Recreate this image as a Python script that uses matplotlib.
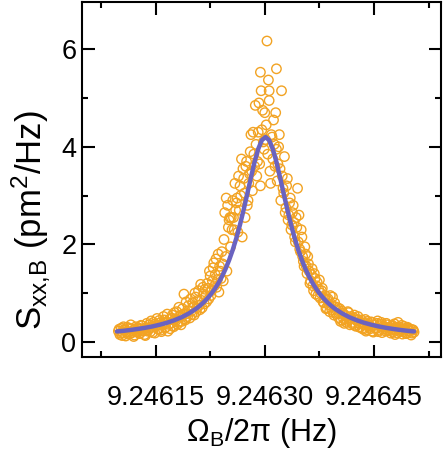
import matplotlib
matplotlib.use("Agg")
import matplotlib.pyplot as plt
import numpy as np

plt.rcParams['font.family'] = ['Liberation Sans', 'DejaVu Sans']
plt.rcParams['mathtext.fontset'] = 'custom'
plt.rcParams['mathtext.rm'] = 'Liberation Sans'
plt.rcParams['mathtext.it'] = 'Liberation Sans'

# frequency offsets above 9.246 (in units of 1e-6) and measured S_xx,B (pm^2/Hz)
freq_offset_a = [
    99, 101, 103, 105, 107, 109, 111, 113, 115, 117, 119, 121, 123, 125, 127, 129, 131, 133, 135, 137, 139,
    141, 143, 145, 147, 149, 151, 153, 155, 157, 159, 161, 163, 165, 167, 169,
    171, 173, 175, 177, 179, 181, 183, 185, 187, 189, 191, 193, 195, 197, 199,
    201, 203, 205, 207, 209, 211, 213, 215, 217, 219,
    221, 223, 225, 227, 229, 231, 233, 235, 237, 239,
    241, 243, 245, 247, 249, 251, 253, 255,
    257, 259, 261, 263, 265, 267, 269,
    271, 273, 275, 277, 279, 281, 283, 285,
    287, 289, 291, 293, 294, 295, 297, 299,
    301, 303, 305, 306, 307, 309, 311, 313, 315, 316,
    317, 319, 321, 323, 325, 327, 329, 331,
    333, 335, 337, 339, 341, 343, 345,
    347, 349, 351, 353, 355, 357, 359,
    361, 363, 365, 367, 369, 371, 373, 375, 377, 379,
    381, 383, 385, 387, 389, 391, 393, 395, 397, 399,
    401, 403, 405, 407, 409, 411, 413, 415, 417, 419, 421, 423, 425, 427, 429,
    431, 433, 435, 437, 439, 441, 443, 445, 447, 449, 451, 453, 455, 457, 459, 461, 463, 465, 467, 469,
    471, 473, 475, 477, 479, 481, 483, 485, 487, 489, 491, 493, 495, 497, 499, 501, 503, 505,
]
psd_a = [
    0.22, 0.15, 0.28, 0.19, 0.25, 0.12, 0.30, 0.21, 0.17, 0.27, 0.23, 0.14, 0.31, 0.20, 0.26, 0.18, 0.33, 0.24, 0.15, 0.29, 0.22,
    0.35, 0.21, 0.30, 0.40, 0.18, 0.33, 0.27, 0.44, 0.24, 0.37, 0.52, 0.29, 0.41, 0.22, 0.46,
    0.38, 0.55, 0.31, 0.47, 0.62, 0.40, 0.51, 0.35, 0.68, 0.98, 0.45, 0.58, 0.74, 0.49, 0.63,
    0.80, 0.55, 0.92, 0.70, 1.05, 0.66, 0.85, 1.12, 0.78, 0.95,
    1.20, 0.88, 1.35, 1.05, 1.52, 1.15, 1.70, 1.28, 1.02, 1.45,
    1.85, 1.25, 2.65, 2.95, 2.80, 2.50, 1.95, 2.30,
    2.55, 3.25, 2.85, 2.25, 2.70, 3.00, 2.15,
    3.35, 2.55, 3.70, 2.90, 3.45, 4.25, 3.10, 3.85,
    4.85, 3.40, 4.30, 3.65, 5.53, 5.15, 4.75, 3.95,
    4.15, 6.17, 5.37, 5.15, 3.50, 4.25, 3.75, 4.05, 4.70, 5.60,
    3.30, 4.00, 3.55, 5.15, 3.15, 3.80, 2.75, 3.35,
    2.60, 2.95, 2.40, 2.80, 2.15, 2.55, 3.15,
    2.60, 1.85, 2.15, 1.65, 1.95, 1.55, 1.75,
    1.45, 1.25, 1.50, 1.05, 1.30, 1.15, 0.95, 1.27, 1.00, 1.10,
    0.80, 0.95, 0.70, 0.88, 0.62, 0.78, 0.92, 0.55, 0.72, 0.65,
    0.50, 0.68, 0.45, 0.59, 0.38, 0.52, 0.44, 0.60, 0.35, 0.48, 0.40, 0.55, 0.32, 0.46, 0.38,
    0.30, 0.45, 0.26, 0.38, 0.22, 0.42, 0.33, 0.27, 0.40, 0.20, 0.35, 0.29, 0.43, 0.24, 0.36, 0.19, 0.32, 0.27, 0.38, 0.23,
    0.30, 0.18, 0.34, 0.25, 0.15, 0.29, 0.40, 0.21, 0.27, 0.16, 0.32, 0.24, 0.19, 0.28, 0.22, 0.14, 0.25, 0.20,
]

freq_offset_b = [
    100, 102, 104, 106, 108, 110, 112, 114, 116, 118, 120, 122, 124, 126, 128, 130, 132, 134, 136, 138, 140,
    142, 144, 146, 148, 150, 152, 154, 156, 158, 160, 162, 164, 166, 168, 170,
    172, 174, 176, 178, 180, 182, 184, 186, 188, 190, 192, 194, 196, 198, 200,
    202, 204, 206, 208, 210, 212, 214, 216, 218, 220,
    222, 224, 226, 228, 230, 232, 234, 236, 238, 240,
    242, 244, 246, 248, 250, 252, 254, 256,
    258, 260, 262, 264, 266, 268, 270,
    272, 274, 276, 278, 280, 282, 284, 286,
    288, 290, 292, 294, 296, 298, 300,
    302, 304, 306, 308, 310, 312, 314, 316,
    318, 320, 322, 324, 326, 328, 330, 332,
    334, 336, 338, 340, 342, 344, 346,
    348, 350, 352, 354, 356, 358, 360,
    362, 364, 366, 368, 370, 372, 374, 376, 378, 380,
    382, 384, 386, 388, 390, 392, 394, 396, 398, 400,
    402, 404, 406, 408, 410, 412, 414, 416, 418, 420, 422, 424, 426, 428, 430,
    432, 434, 436, 438, 440, 442, 444, 446, 448, 450, 452, 454, 456, 458, 460, 462, 464, 466, 468, 470,
    472, 474, 476, 478, 480, 482, 484, 486, 488, 490, 492, 494, 496, 498, 500, 502, 504,
]
psd_b = [
    0.26, 0.18, 0.13, 0.31, 0.24, 0.20, 0.16, 0.28, 0.35, 0.19, 0.11, 0.26, 0.22, 0.29, 0.17, 0.34, 0.23, 0.27, 0.13, 0.38, 0.25,
    0.28, 0.43, 0.19, 0.36, 0.31, 0.48, 0.26, 0.39, 0.21, 0.34, 0.45, 0.30, 0.57, 0.36, 0.27,
    0.49, 0.33, 0.60, 0.44, 0.36, 0.71, 0.54, 0.42, 0.57, 0.47, 0.82, 0.52, 0.64, 0.88, 0.56,
    0.72, 1.00, 0.62, 0.85, 0.75, 1.18, 0.70, 0.98, 1.08, 0.82,
    1.10, 1.45, 0.95, 1.25, 1.62, 1.38, 1.12, 1.80, 1.55, 1.30,
    1.60, 2.10, 1.75, 1.45, 2.35, 2.55, 2.55, 2.90,
    2.30, 2.70, 2.95, 3.40, 3.20, 3.75, 3.55,
    3.05, 3.60, 2.80, 3.25, 3.90, 3.50, 4.30, 3.60,
    4.05, 3.70, 4.90, 3.20, 4.35, 4.10, 4.70,
    4.45, 3.85, 4.95, 3.25, 4.20, 4.55, 3.60, 3.95,
    3.65, 4.25, 2.90, 3.40, 3.05, 2.65, 3.20, 2.50,
    2.85, 2.30, 2.65, 2.45, 2.05, 2.35, 2.05,
    1.90, 2.30, 1.75, 1.55, 1.80, 1.40, 1.60,
    1.20, 1.38, 1.15, 1.40, 0.98, 1.22, 1.08, 0.90, 1.05, 0.82,
    0.90, 0.68, 0.85, 0.76, 0.95, 0.66, 0.60, 0.80, 0.58, 0.70,
    0.58, 0.42, 0.63, 0.48, 0.55, 0.40, 0.62, 0.46, 0.52, 0.37, 0.50, 0.34, 0.44, 0.52, 0.30,
    0.40, 0.28, 0.35, 0.46, 0.25, 0.36, 0.30, 0.41, 0.22, 0.34, 0.28, 0.38, 0.21, 0.33, 0.40, 0.26, 0.30, 0.22, 0.35, 0.28,
    0.23, 0.32, 0.20, 0.37, 0.26, 0.18, 0.31, 0.24, 0.34, 0.21, 0.27, 0.17, 0.30, 0.23, 0.26, 0.18, 0.24,
]

# Lorentzian fit curve (offset above 9.246, value)
fit_offset = [97, 106, 116, 126, 136, 146, 156, 166, 176, 186, 196,
              206, 211, 216, 221, 226, 231, 236, 241, 246, 251, 256, 261, 266, 271, 276, 281, 286, 291, 296,
              301, 306, 311, 316, 321, 326, 331, 336, 341, 346, 351, 356, 361, 366, 371, 376, 381, 386, 391, 396,
              406, 416, 426, 436, 446, 456, 466, 476, 486, 496, 505]
fit_val = [0.214, 0.227, 0.245, 0.266, 0.290, 0.318, 0.353, 0.394, 0.445, 0.507, 0.585,
           0.683, 0.743, 0.810, 0.888, 0.977, 1.079, 1.197, 1.334, 1.492, 1.676, 1.887, 2.130, 2.405, 2.710,
           3.037, 3.372, 3.690, 3.956, 4.136, 4.200,
           4.136, 3.956, 3.690, 3.372, 3.037, 2.710, 2.405, 2.130, 1.887, 1.676, 1.492, 1.334, 1.197, 1.079,
           0.977, 0.888, 0.810, 0.743, 0.683,
           0.585, 0.507, 0.445, 0.394, 0.353, 0.318, 0.290, 0.266, 0.245, 0.227, 0.214]

x_ticks = [9.24615, 9.24630, 9.24645]
x_ticklabels = ["9.24615", "9.24630", "9.24645"]
y_ticks = [0, 2, 4, 6]

base = 9.246
x = base + np.array(freq_offset_a + freq_offset_b) * 1e-6
y = np.array(psd_a + psd_b)
xf = base + np.array(fit_offset) * 1e-6

fig = plt.figure(figsize=(4.44, 4.57), dpi=100)
ax = fig.add_axes([82/444, 1 - 357/457, (441-82)/444, (357-2)/457])

ax.scatter(x, y, s=46, facecolors='none', edgecolors='#F2A323', linewidths=1.0, zorder=2)
ax.plot(xf, fit_val, color='#6A63C0', lw=3.2, zorder=3, solid_capstyle='round', solid_joinstyle='round')

ax.set_xlim(9.246049, 9.246542)
ax.set_ylim(-0.31, 6.97)
ax.set_xticks(x_ticks)
ax.set_xticklabels(x_ticklabels)
ax.set_xticks([9.246075, 9.246225, 9.246375, 9.246525], minor=True)
ax.set_yticks(y_ticks)
ax.set_yticks([1, 3, 5], minor=True)

for s in ax.spines.values():
    s.set_linewidth(1.5)
ax.tick_params(which='both', direction='in', top=True, right=True, width=1.5, labelsize=19.5)
ax.tick_params(axis='x', which='both', pad=20)
ax.tick_params(axis='y', which='both', pad=4)
ax.tick_params(which='major', length=9)
ax.tick_params(which='minor', length=4.5)

ax.set_xlabel(r'$\Omega_\mathrm{B}/2\pi$ (Hz)', fontsize=22, va='center')
ax.xaxis.set_label_coords(0.5, -0.214)
ax.set_ylabel(r'S$_\mathrm{xx{,}B}$ (pm$^2$/Hz)', fontsize=25, va='center')
ax.yaxis.set_label_coords(-0.142, 0.385)

fig.savefig('out.png', dpi=100)
